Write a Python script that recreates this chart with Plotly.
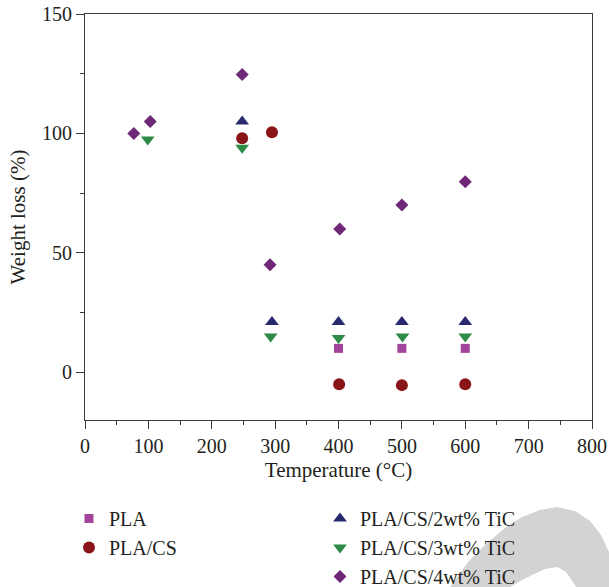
import plotly.graph_objects as go

# Data
pla_x = [400, 500, 600]
pla_y = [10, 10, 10]

placs_x = [248, 295, 401, 500, 600]
placs_y = [98, 100.5, -5, -5.4, -5]

ti2_x = [248, 295, 400, 500, 600]
ti2_y = [105, 21, 21, 21, 21]

ti3_x = [99, 248, 293, 400, 501, 600]
ti3_y = [97.5, 94, 15, 14.3, 15, 15]

ti4_x = [77, 103, 248, 292, 402, 500, 600]
ti4_y = [100, 105, 124.7, 45, 60, 70, 79.8]

x_ticks = [0, 100, 200, 300, 400, 500, 600, 700, 800]
y_ticks = [0, 50, 100, 150]

FONT = "Liberation Serif"
TXT = "#231f20"
fig = go.Figure()

fig.add_trace(go.Scatter(x=pla_x, y=pla_y, mode="markers", name="PLA",
                         marker=dict(symbol="square", size=9, color="#A2449A"), legend="legend"))
fig.add_trace(go.Scatter(x=placs_x, y=placs_y, mode="markers", name="PLA/CS",
                         marker=dict(symbol="circle", size=12, color="#8A1518"), legend="legend"))
fig.add_trace(go.Scatter(x=ti2_x, y=ti2_y, mode="markers", name="PLA/CS/2wt% TiC",
                         marker=dict(symbol="triangle-up", size=12, color="#28286E"), legend="legend2"))
fig.add_trace(go.Scatter(x=ti3_x, y=ti3_y, mode="markers", name="PLA/CS/3wt% TiC",
                         marker=dict(symbol="triangle-down", size=12, color="#2E8B47"), legend="legend2"))
fig.add_trace(go.Scatter(x=ti4_x, y=ti4_y, mode="markers", name="PLA/CS/4wt% TiC",
                         marker=dict(symbol="diamond", size=10, color="#6E2877"), legend="legend2"))

W, H = 609, 587
# plot area in pixels: left 85, right 592, top 14, bottom 420
L, R, T, B = 85, 592, 14, 420

def px(xp):
    return (xp - L) / (R - L)

def py(yp):
    return (B - yp) / (B - T)

outer = [(448, 590), (468, 562), (487, 543), (505, 528), (520, 518), (540, 510), (557, 507),
         (575, 511), (590, 521), (601, 535), (609, 552), (612, 590)]
inner = [(578, 590), (573, 582), (566, 572), (557, 567), (545, 569), (530, 576), (515, 584), (505, 590)]
pts = outer + inner
path = "M " + " L ".join(f"{px(a):.4f},{py(b):.4f}" for a, b in pts) + " Z"
fig.add_shape(type="path", path=path, xref="paper", yref="paper",
              fillcolor="#D3D3D3", line=dict(width=0), layer="below")

axis_common = dict(showline=True, linecolor="#3a3a3a", linewidth=1, mirror=True,
                   ticks="outside", tickcolor="#3a3a3a", ticklen=8, tickwidth=1,
                   showgrid=False, zeroline=False, automargin=False,
                   tickfont=dict(family=FONT, size=20, color=TXT))

fig.update_xaxes(range=[0, 800], tickvals=x_ticks,
                 minor=dict(dtick=50, ticks="outside", ticklen=4, tickcolor="#3a3a3a"),
                 title=dict(text="Temperature (°C)", font=dict(family=FONT, size=21, color=TXT), standoff=6),
                 **axis_common)
fig.update_yaxes(range=[-20, 150], tickvals=y_ticks,
                 minor=dict(tickvals=[-25, 25, 75, 125], ticks="outside", ticklen=4, tickcolor="#3a3a3a"),
                 title=dict(text="Weight loss (%)", font=dict(family=FONT, size=21, color=TXT), standoff=10),
                 **axis_common)

leg = dict(font=dict(family=FONT, size=20, color=TXT), bgcolor="rgba(0,0,0,0)",
           xanchor="left", yanchor="top", orientation="v", itemwidth=30,
           traceorder="grouped", tracegroupgap=0)

fig.update_layout(
    width=W, height=H,
    margin=dict(l=L, r=W - R, t=T, b=H - B, autoexpand=False),
    plot_bgcolor="white", paper_bgcolor="white",
    showlegend=True,
    legend=dict(x=px(69), y=py(499), **leg),
    legend2=dict(x=px(320), y=py(499), **leg),
    font=dict(family=FONT, color=TXT),
)

fig.write_html("out.html", config={"displayModeBar": False},
               post_script="document.body.style.margin='0';document.body.style.overflow='hidden';")
